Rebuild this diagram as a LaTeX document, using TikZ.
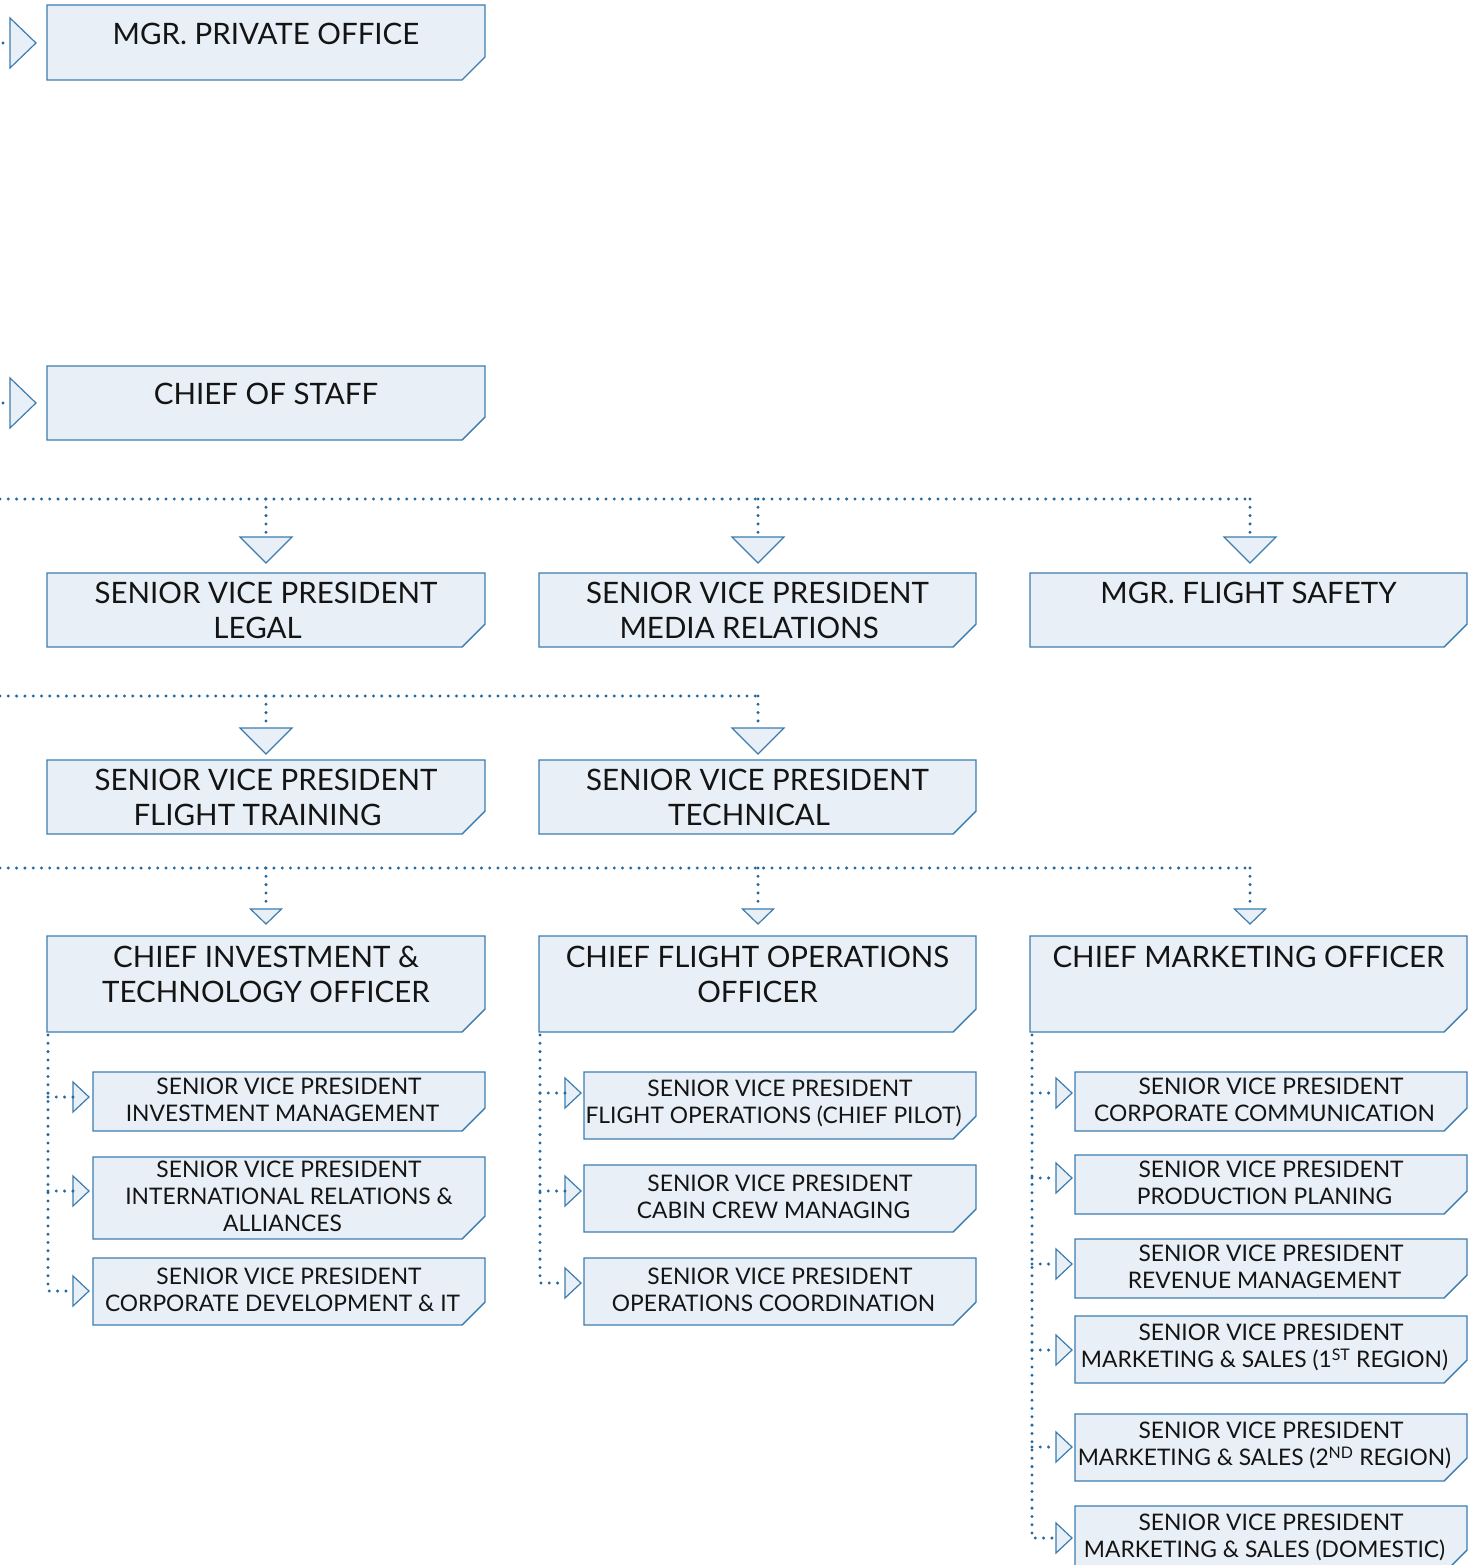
\documentclass[tikz,border=0pt]{standalone}
\usepackage{fontspec}
\setmainfont{Lato}
\usetikzlibrary{shapes.geometric,positioning}

\definecolor{boxblue}{HTML}{3C7CB0}
\definecolor{boxfill}{HTML}{E8EFF6}
\definecolor{dotblue}{HTML}{2468A0}
\definecolor{inkgray}{HTML}{141414}

\newcommand{\cornercut}{23pt}
% box with the lower right corner cut off: [text opts]{name}{nw corner}{width}{height}{text}
\newcommand{\orgbox}[6][]{%
  \node[boxarea,minimum width=#4pt,minimum height=#5pt] (#2) at #3 {};
  \filldraw[boxline] (#2.north west) -- (#2.north east)
    -- ([yshift=\cornercut]#2.south east) -- ([xshift=-\cornercut]#2.south east)
    -- (#2.south west) -- cycle;
  \node[boxtext,at={(#2.center)},#1] (#2-txt) {#6};
}
\newcommand{\svp}[1]{SENIOR VICE PRESIDENT\\#1\hspace*{.57em}}

\begin{document}
\begin{tikzpicture}[x=1pt,y=-1pt,
  boxarea/.style={anchor=north west,inner sep=0pt,outer sep=0pt},
  boxline/.style={draw=boxblue,fill=boxfill,line width=1.4pt},
  boxtext/.style={align=center,inner sep=0pt,text=inkgray},
  bigtext/.style={boxtext,font=\fontsize{29.5}{35}\selectfont},
  smalltext/.style={boxtext,font=\fontsize{22.8}{27}\selectfont,yshift=2pt},
  tri/.style={isosceles triangle,isosceles triangle stretches,draw=boxblue,
    fill=boxfill,line width=1.2pt,inner sep=0pt,outer sep=0pt},
  dtri/.style={tri,shape border rotate=-90,anchor=north,minimum width=52pt,minimum height=26pt},
  dtrism/.style={tri,shape border rotate=-90,anchor=north,minimum width=31pt,minimum height=15pt},
  rtri/.style={tri,anchor=west,minimum width=50pt,minimum height=26pt},
  rtrism/.style={tri,anchor=west,minimum width=30pt,minimum height=16pt},
  link/.style={draw=dotblue,line width=3.3pt,line cap=round,dash pattern=on 0pt off 8.3pt}]
\clip (0,0) rectangle (1475,1565);

% top
\orgbox[bigtext,below=18pt of pvt.north]{pvt}{(47,5)}{438}{75}{MGR. PRIVATE OFFICE}
\node[rtri] (pvt-in) at (10,43) {};
\coordinate (pvt-src) at (3,43);
\draw[link] (pvt-src) -- (pvt-in.west);

\orgbox[bigtext,below=17pt of cos.north]{cos}{(47,366)}{438}{74}{CHIEF OF STAFF}
\node[rtri] (cos-in) at (10,403) {};
\coordinate (cos-src) at (3,403);
\draw[link] (cos-src) -- (cos-in.west);

% row 1
\orgbox[bigtext,below=9pt of legal.north]{legal}{(47,573)}{438}{74}{\svp{LEGAL}}
\orgbox[bigtext,below=9pt of media.north]{media}{(539,573)}{437}{74}{\svp{MEDIA RELATIONS}}
\orgbox[bigtext,below=9pt of safety.north]{safety}{(1030,573)}{437}{74}{MGR. FLIGHT SAFETY}
\node[dtri] (legal-in) at (266,537) {};
\node[dtri] (media-in) at (758,537) {};
\node[dtri] (safety-in) at (1250,537) {};
\coordinate (bus1) at (0,499);
\draw[link] (bus1) -- (bus1 -| safety-in.north);
\foreach \n in {legal,media,safety}
  \draw[link] (bus1 -| \n-in.north) -- (\n-in.north);

% row 2
\orgbox[bigtext,below=9pt of training.north]{training}{(47,760)}{438}{74}{\svp{FLIGHT TRAINING}}
\orgbox[bigtext,below=9pt of technical.north]{technical}{(539,760)}{437}{74}{\svp{TECHNICAL}}
\node[dtri] (training-in) at (266,728) {};
\node[dtri] (technical-in) at (758,728) {};
\coordinate (bus2) at (0,696);
\draw[link] (bus2) -- (bus2 -| technical-in.north);
\foreach \n in {training,technical}
  \draw[link] (bus2 -| \n-in.north) -- (\n-in.north);

% row 3
\orgbox[bigtext,below=10pt of cito.north]{cito}{(47,936)}{438}{96}{CHIEF INVESTMENT \&\\TECHNOLOGY OFFICER}
\orgbox[bigtext,below=10pt of cfo.north]{cfo}{(539,936)}{437}{96}{CHIEF FLIGHT OPERATIONS\\OFFICER}
\orgbox[bigtext,below=10pt of cmo.north]{cmo}{(1030,936)}{437}{96}{CHIEF MARKETING OFFICER}
\node[dtrism] (cito-in) at (266,909) {};
\node[dtrism] (cfo-in) at (758,909) {};
\node[dtrism] (cmo-in) at (1250,909) {};
\coordinate (bus3) at (0,868);
\draw[link] (bus3) -- (bus3 -| cmo-in.north);
\foreach \n in {cito,cfo,cmo}
  \draw[link] (bus3 -| \n-in.north) -- (\n-in.north);

% under the chief investment & technology officer
\orgbox[smalltext]{inv}{(93,1072)}{392}{59}{\svp{INVESTMENT MANAGEMENT}}
\orgbox[smalltext]{intl}{(93,1157)}{392}{82}{SENIOR VICE PRESIDENT\\INTERNATIONAL RELATIONS \&\\ALLIANCES\hspace*{.57em}}
\orgbox[smalltext]{corp}{(93,1258)}{392}{67}{\svp{CORPORATE DEVELOPMENT \& IT}}
\node[rtrism] (inv-in) at (73,1097) {};
\node[rtrism] (intl-in) at (73,1191) {};
\node[rtrism] (corp-in) at (73,1291) {};
\coordinate (cito-stem) at ([xshift=1pt,yshift=-3pt]cito.south west);
\draw[link] (cito-stem) |- (corp-in.west);
\foreach \n in {inv,intl}
  \draw[link] (\n-in.west -| cito-stem) -- (\n-in.west);

% under the chief flight operations officer
\orgbox[smalltext]{fltops}{(584,1072)}{392}{67}{\svp{FLIGHT OPERATIONS (CHIEF PILOT)}}
\orgbox[smalltext]{cabin}{(584,1165)}{392}{67}{\svp{CABIN CREW MANAGING}}
\orgbox[smalltext]{opsco}{(584,1258)}{392}{67}{\svp{OPERATIONS COORDINATION}}
\node[rtrism] (fltops-in) at (565,1093) {};
\node[rtrism] (cabin-in) at (565,1191) {};
\node[rtrism] (opsco-in) at (565,1283) {};
\coordinate (cfo-stem) at ([xshift=1pt,yshift=-3pt]cfo.south west);
\draw[link] (cfo-stem) |- (opsco-in.west);
\foreach \n in {fltops,cabin}
  \draw[link] (\n-in.west -| cfo-stem) -- (\n-in.west);

% under the chief marketing officer
\orgbox[smalltext]{comm}{(1075,1072)}{392}{59}{\svp{CORPORATE COMMUNICATION}}
\orgbox[smalltext]{prod}{(1075,1155)}{392}{59}{\svp{PRODUCTION PLANING}}
\orgbox[smalltext]{rev}{(1075,1239)}{392}{59}{\svp{REVENUE MANAGEMENT}}
\orgbox[smalltext]{ms1}{(1075,1316)}{392}{67}{\svp{MARKETING \& SALES (1\textsuperscript{ST} REGION)}}
\orgbox[smalltext]{ms2}{(1075,1414)}{392}{67}{\svp{MARKETING \& SALES (2\textsuperscript{ND} REGION)}}
\orgbox[smalltext]{dom}{(1075,1506)}{392}{67}{\svp{MARKETING \& SALES (DOMESTIC)}}
\node[rtrism] (comm-in) at (1056,1093) {};
\node[rtrism] (prod-in) at (1056,1178) {};
\node[rtrism] (rev-in) at (1056,1264) {};
\node[rtrism] (ms1-in) at (1056,1350) {};
\node[rtrism] (ms2-in) at (1056,1447) {};
\node[rtrism] (dom-in) at (1056,1538) {};
\coordinate (cmo-stem) at ([xshift=2pt,yshift=-3pt]cmo.south west);
\draw[link] (cmo-stem) |- (dom-in.west);
\foreach \n in {comm,prod,rev,ms1,ms2}
  \draw[link] (\n-in.west -| cmo-stem) -- (\n-in.west);
\end{tikzpicture}
\end{document}
